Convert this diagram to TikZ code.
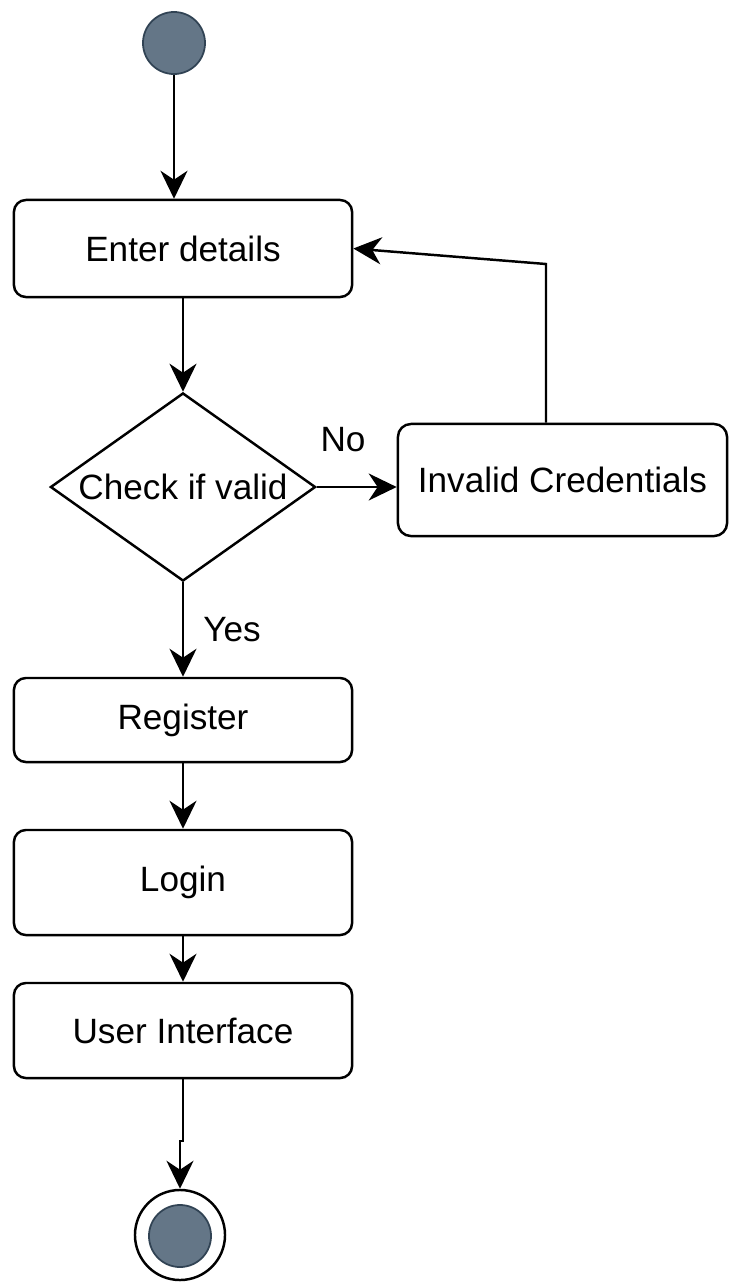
\documentclass[tikz,border=0pt]{standalone}
\usepackage{fontspec}
\setmainfont{Liberation Sans}
\usetikzlibrary{arrows.meta,shapes.geometric}
\definecolor{slate}{HTML}{647687}
\definecolor{slateline}{HTML}{314354}
\begin{document}
\begin{tikzpicture}[x=0.01cm, y=-0.01cm, line width=0.7pt, font=\fontsize{10}{12}\selectfont,
	box/.style = {draw, rounded corners=0.12cm, minimum width=3.38cm, inner sep=0pt},
	dot/.style = {draw=slateline, circle, fill=slate, line width=0.5pt, minimum size=0.62cm, inner sep=0pt},
	arr/.style = {-{Stealth[length=0.28cm, width=0.27cm, inset=0.09cm]}, line width=0.7pt}]
			
			\useasboundingbox (0,0) rectangle (729,1284);
			
			\node[dot] (start) at (174,43) {};
			
			\node[box, minimum height=0.97cm] (enter) at (183,248.5) {Enter details};
			\node[draw, diamond, shape aspect=1.41, inner sep=0pt, minimum width=2.65cm, minimum height=1.88cm] (check) at (183,487) {Check if valid};
			\node[box, rounded corners=0.13cm, minimum width=3.29cm, minimum height=1.12cm] (invalid) at (562.5,480) {Invalid Credentials};
			
			\node[box, minimum height=0.84cm] (register) at (183,720) {Register};
			\node[box, minimum height=1.05cm] (login) at (183,882.5) {Login};
			\node[box, minimum height=0.95cm] (ui) at (183,1030.5) {User Interface};
			
			\node[draw, circle, fill=white, minimum size=0.9cm, inner sep=0pt] (stop) at (180,1235) {};
			\node[dot] (stopin) at (180,1236) {};
			
			\node (no) at (343,440) {No};
			\node (yes) at (232,630) {Yes};
			
			\coordinate (back) at (546,264);
			\coordinate (jog) at (180,1141);
			
			\draw[arr] (start) -- (start |- enter.north);
			\draw[arr] (enter) -- (check);
			\draw[arr] (check) -- (check -| invalid.west);
			\draw[arr] (invalid.north -| back) -- (back) -- (enter.east);
			\draw[arr] (check) -- (register);
			\draw[arr] (register) -- (login);
			\draw[arr] (login) -- (ui);
			\draw[arr] (ui.south) |- (jog) -- (stop.north);
			
		\end{tikzpicture}
\end{document}
